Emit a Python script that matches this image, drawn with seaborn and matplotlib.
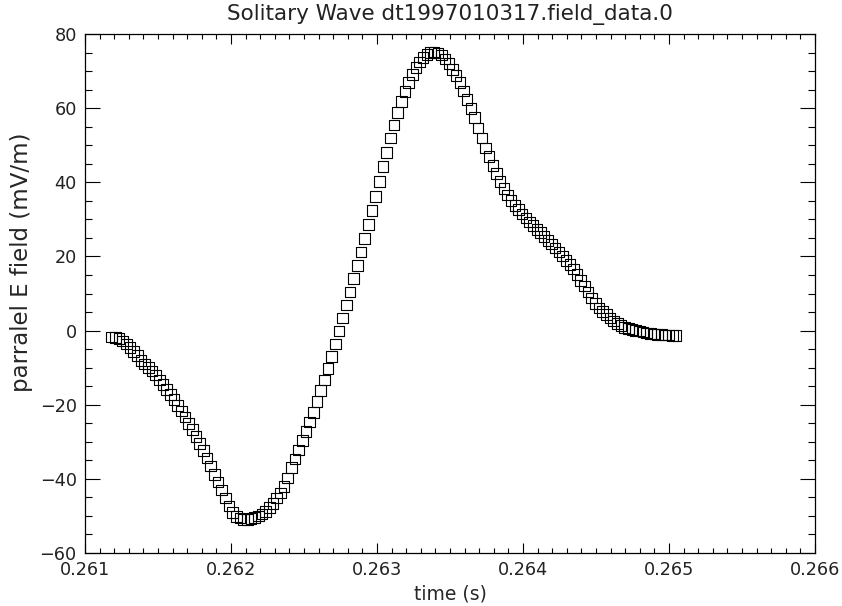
import matplotlib
matplotlib.use("Agg")
import matplotlib.pyplot as plt
import seaborn as sns
import pandas as pd
from matplotlib.ticker import MultipleLocator, FormatStrFormatter

title = "Solitary Wave dt1997010317.field_data.0"
x_label = "time (s)"
y_label = "parralel E field (mV/m)"
x_ticks = [0.261, 0.262, 0.263, 0.264, 0.265, 0.266]
y_ticks = [-60, -40, -20, 0, 20, 40, 60, 80]

time_s = [
    0.2611830, 0.2612081, 0.2612332, 0.2612583, 0.2612834, 0.2613085, 0.2613336, 0.2613587, 0.2613838, 0.2614089,
    0.2614340, 0.2614591, 0.2614842, 0.2615093, 0.2615344, 0.2615595, 0.2615846, 0.2616097, 0.2616348, 0.2616599,
    0.2616850, 0.2617101, 0.2617352, 0.2617603, 0.2617854, 0.2618105, 0.2618356, 0.2618607, 0.2618858, 0.2619109,
    0.2619360, 0.2619611, 0.2619862, 0.2620113, 0.2620364, 0.2620615, 0.2620866, 0.2621117, 0.2621368, 0.2621619,
    0.2621870, 0.2622121, 0.2622372, 0.2622623, 0.2622874, 0.2623125, 0.2623376, 0.2623627, 0.2623878, 0.2624129,
    0.2624380, 0.2624631, 0.2624882, 0.2625133, 0.2625384, 0.2625635, 0.2625886, 0.2626137, 0.2626388, 0.2626639,
    0.2626890, 0.2627141, 0.2627392, 0.2627643, 0.2627894, 0.2628145, 0.2628396, 0.2628647, 0.2628898, 0.2629149,
    0.2629400, 0.2629651, 0.2629902, 0.2630153, 0.2630404, 0.2630655, 0.2630906, 0.2631157, 0.2631408, 0.2631659,
    0.2631910, 0.2632161, 0.2632412, 0.2632663, 0.2632914, 0.2633165, 0.2633416, 0.2633667, 0.2633918, 0.2634169,
    0.2634420, 0.2634671, 0.2634922, 0.2635173, 0.2635424, 0.2635675, 0.2635926, 0.2636177, 0.2636428, 0.2636679,
    0.2636930, 0.2637181, 0.2637432, 0.2637683, 0.2637934, 0.2638185, 0.2638436, 0.2638687, 0.2638938, 0.2639189,
    0.2639440, 0.2639691, 0.2639942, 0.2640193, 0.2640444, 0.2640695, 0.2640946, 0.2641197, 0.2641448, 0.2641699,
    0.2641950, 0.2642201, 0.2642452, 0.2642703, 0.2642954, 0.2643205, 0.2643456, 0.2643707, 0.2643958, 0.2644209,
    0.2644460, 0.2644711, 0.2644962, 0.2645213, 0.2645464, 0.2645715, 0.2645966, 0.2646217, 0.2646468, 0.2646719,
    0.2646970, 0.2647221, 0.2647472, 0.2647723, 0.2647974, 0.2648225, 0.2648476, 0.2648727, 0.2648978, 0.2649229,
    0.2649480, 0.2649731, 0.2649982, 0.2650233, 0.2650484,
]

e_field = [
    -1.7, -1.8, -2.2, -2.8, -3.6, -4.6, -5.6, -6.8, -8.0, -9.0,
    -9.9, -10.9, -12.0, -13.3, -14.6, -15.9, -17.2, -18.6, -20.2, -21.7,
    -23.3, -25.1, -26.7, -28.6, -30.5, -32.4, -34.4, -36.5, -38.8, -40.8,
    -43.0, -45.2, -47.3, -49.0, -50.1, -50.6, -51.0, -50.9, -50.7, -50.4,
    -50.0, -49.5, -48.8, -47.7, -46.6, -45.2, -43.8, -42.1, -39.8, -37.0,
    -34.6, -32.2, -29.7, -27.2, -24.7, -22.1, -19.2, -16.1, -13.3, -10.2,
    -7.0, -3.6, -0.1, 3.4, 6.9, 10.4, 14.0, 17.6, 21.2, 24.9,
    28.6, 32.4, 36.2, 40.2, 44.2, 48.1, 51.9, 55.4, 58.8, 61.8,
    64.5, 66.9, 69.1, 71.0, 72.5, 73.6, 74.5, 75.0, 75.1, 74.9,
    74.3, 73.3, 72.0, 70.5, 68.8, 66.9, 64.6, 62.4, 59.9, 57.4,
    54.7, 52.0, 49.3, 46.9, 44.6, 42.4, 40.2, 38.3, 36.6, 35.1,
    33.8, 32.6, 31.5, 30.4, 29.3, 28.4, 27.3, 26.4, 25.4, 24.3,
    23.4, 22.3, 21.2, 20.1, 18.9, 17.8, 16.6, 15.1, 13.5, 12.0,
    10.4, 8.8, 7.3, 6.1, 5.1, 4.3, 3.4, 2.6, 1.9, 1.3,
    0.9, 0.5, 0.25, 0.0, -0.15, -0.4, -0.6, -0.75, -0.9, -1.0,
    -1.05, -1.15, -1.25, -1.3, -1.4,
]

df = pd.DataFrame({"time": time_s, "efield": e_field})

sns.set_style("ticks")
plt.rcParams["font.family"] = ["DejaVu Sans"]
plt.rcParams["text.color"] = "#222222"
plt.rcParams["xtick.labelcolor"] = "#222222"
plt.rcParams["ytick.labelcolor"] = "#222222"

fig = plt.figure(figsize=(8.42, 6.06), dpi=100)
ax = fig.add_axes([85 / 842, 1 - 553 / 606, 730 / 842, 519 / 606])

sns.scatterplot(data=df, x="time", y="efield", ax=ax, marker="s", s=58,
                facecolors="none", edgecolor="black", linewidth=0.8, legend=False)
for coll in ax.collections:
    coll.set_facecolor("none")
    coll.set_edgecolor("black")
    coll.set_linewidth(0.8)

ax.set_xlim(x_ticks[0], x_ticks[-1])
ax.set_ylim(y_ticks[0], y_ticks[-1])
ax.set_xticks(x_ticks)
ax.set_yticks(y_ticks)
ax.xaxis.set_major_formatter(FormatStrFormatter("%.3f"))
ax.xaxis.set_minor_locator(MultipleLocator(0.0001))
ax.yaxis.set_minor_locator(MultipleLocator(5))

ax.tick_params(axis="both", which="both", direction="in", top=True, right=True,
               color="black", width=0.8)
ax.tick_params(axis="x", which="major", length=7.5, pad=6, labelsize=12.7)
ax.tick_params(axis="x", which="minor", length=3.75)
ax.tick_params(axis="y", which="major", length=10.5, pad=6, labelsize=12.7)
ax.tick_params(axis="y", which="minor", length=5.25)

for sp in ax.spines.values():
    sp.set_visible(True)
    sp.set_linewidth(0.9)
    sp.set_color("black")

ax.set_title(title, fontsize=15.5, pad=10)
ax.set_xlabel(x_label, fontsize=13.5, va="center")
ax.xaxis.set_label_coords(0.5, (553 - 594) / 519)
ax.set_ylabel(y_label, fontsize=16.5, va="center")
ax.yaxis.set_label_coords((22 - 85) / 730, (553 - 262) / 519)

fig.savefig("out.png", dpi=100)
